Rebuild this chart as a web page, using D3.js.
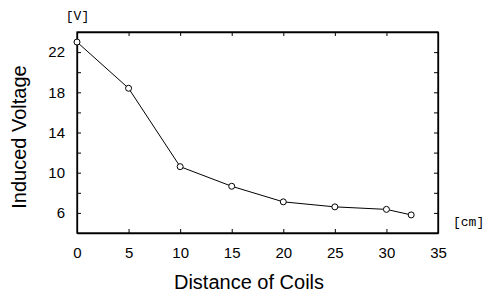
<!DOCTYPE html>
<html>
<head>
<meta charset="utf-8">
<script src="https://cdn.jsdelivr.net/npm/d3@7"></script>
<style>
  body { margin: 0; background: #fff; }
  svg text { fill: #000; }
</style>
</head>
<body>
<div id="chart"></div>
<script>
// data
var distance = [0, 5, 10, 15, 20, 25, 30, 32.4];
var voltage = [23.0, 18.4, 10.6, 8.65, 7.1, 6.6, 6.35, 5.8];
var xTicks = [0, 5, 10, 15, 20, 25, 30, 35];
var yLabels = [6, 10, 14, 18, 22];
var yMinor = [4, 6, 8, 10, 12, 14, 16, 18, 20, 22, 24];

var margin = { top: 32, right: 50, bottom: 64, left: 77 },
    width = 488 - margin.left - margin.right,
    height = 297 - margin.top - margin.bottom;

var svg = d3.select("#chart")
  .append("svg")
  .attr("width", 488)
  .attr("height", 297)
  .append("g")
  .attr("transform", "translate(" + margin.left + "," + margin.top + ")");

var x = d3.scaleLinear().domain([0, 35]).range([0, width]);
var y = d3.scaleLinear().domain([4, 24]).range([height, 0]);

// inward ticks on all four sides
var tickLen = 4;
svg.append("g")
  .attr("transform", "translate(0," + height + ")")
  .call(d3.axisBottom(x).tickValues(xTicks).tickSizeInner(-tickLen).tickSizeOuter(0).tickPadding(14));

svg.append("g")
  .call(d3.axisTop(x).tickValues(xTicks).tickSizeInner(-tickLen).tickSizeOuter(0).tickFormat(""));

svg.append("g")
  .call(d3.axisLeft(y).tickValues(yMinor).tickSizeInner(-tickLen).tickSizeOuter(0)
    .tickPadding(12).tickFormat(d => yLabels.indexOf(d) >= 0 ? d : ""));

svg.append("g")
  .attr("transform", "translate(" + width + ",0)")
  .call(d3.axisRight(y).tickValues(yMinor).tickSizeInner(-tickLen).tickSizeOuter(0).tickFormat(""));

svg.selectAll(".domain").attr("stroke", "#000").attr("stroke-width", 1.3);
svg.selectAll(".tick line").attr("stroke", "#000");
svg.selectAll(".tick text")
  .attr("font-family", "'Liberation Sans', Arial, sans-serif")
  .attr("font-size", 15)
  .attr("fill", "#000");

svg.append("rect")
  .attr("width", width).attr("height", height)
  .attr("fill", "none").attr("stroke", "#000").attr("stroke-width", 1.3);

var pts = distance.map((d, i) => ({ x: d, y: voltage[i] }));

svg.append("path")
  .datum(pts)
  .attr("fill", "none")
  .attr("stroke", "#000")
  .attr("stroke-width", 1)
  .attr("d", d3.line().x(d => x(d.x)).y(d => y(d.y)));

svg.selectAll(".dot")
  .data(pts)
  .enter()
  .append("circle")
  .attr("cx", d => x(d.x))
  .attr("cy", d => y(d.y))
  .attr("r", 3)
  .attr("fill", "#fff")
  .attr("stroke", "#000")
  .attr("stroke-width", 1);

// axis titles and units
svg.append("text")
  .attr("x", 172)
  .attr("y", 289 - margin.top)
  .attr("text-anchor", "middle")
  .attr("font-family", "'Liberation Sans', Arial, sans-serif")
  .attr("font-size", 20)
  .text("Distance of Coils");

svg.append("text")
  .attr("transform", "translate(" + (26 - margin.left) + "," + (137 - margin.top) + ") rotate(-90)")
  .attr("text-anchor", "middle")
  .attr("font-family", "'Liberation Sans', Arial, sans-serif")
  .attr("font-size", 20)
  .text("Induced Voltage");

svg.append("text")
  .attr("x", 77.5 - margin.left)
  .attr("y", 20 - margin.top)
  .attr("text-anchor", "middle")
  .attr("font-family", "'Liberation Mono', 'DejaVu Sans Mono', monospace")
  .attr("font-size", 13)
  .text("[V]");

svg.append("text")
  .attr("x", 453 - margin.left)
  .attr("y", 226 - margin.top)
  .attr("font-family", "'Liberation Mono', 'DejaVu Sans Mono', monospace")
  .attr("font-size", 13)
  .text("[cm]");
</script>
</body>
</html>
